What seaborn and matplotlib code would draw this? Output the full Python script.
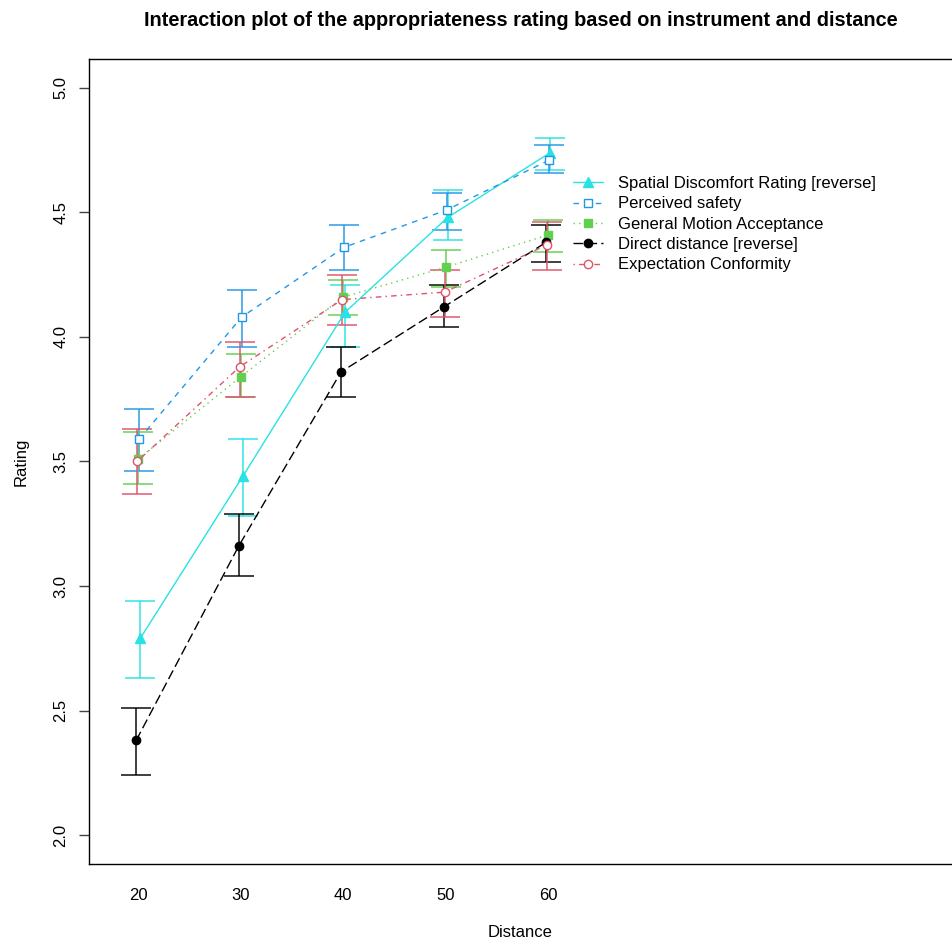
import matplotlib
matplotlib.use("Agg")
import matplotlib.pyplot as plt
import seaborn as sns
import numpy as np
import pandas as pd

# data (means with lower / upper error bounds)
distance = [20, 30, 40, 50, 60]
instruments = ['Spatial Discomfort Rating [reverse]', 'Perceived safety',
               'General Motion Acceptance', 'Direct distance [reverse]',
               'Expectation Conformity']

spatial = [2.79, 3.44, 4.10, 4.48, 4.74]
spatial_lo = [2.63, 3.28, 3.96, 4.39, 4.67]
spatial_hi = [2.94, 3.59, 4.21, 4.59, 4.80]

perceived = [3.59, 4.08, 4.36, 4.51, 4.71]
perceived_lo = [3.46, 3.96, 4.27, 4.43, 4.66]
perceived_hi = [3.71, 4.19, 4.45, 4.58, 4.77]

general = [3.51, 3.84, 4.16, 4.28, 4.41]
general_lo = [3.41, 3.76, 4.09, 4.20, 4.34]
general_hi = [3.62, 3.93, 4.23, 4.35, 4.47]

direct = [2.38, 3.16, 3.86, 4.12, 4.38]
direct_lo = [2.24, 3.04, 3.76, 4.04, 4.30]
direct_hi = [2.51, 3.29, 3.96, 4.21, 4.45]

expect = [3.50, 3.88, 4.15, 4.18, 4.37]
expect_lo = [3.37, 3.76, 4.05, 4.08, 4.27]
expect_hi = [3.63, 3.98, 4.25, 4.27, 4.46]

means = [spatial, perceived, general, direct, expect]
lows = [spatial_lo, perceived_lo, general_lo, direct_lo, expect_lo]
highs = [spatial_hi, perceived_hi, general_hi, direct_hi, expect_hi]

# styling per series (R palette colours)
colors = ['#28E2E5', '#2297E6', '#61D04F', 'black', '#DF536B']
markers = ['^', 's', 's', 'o', 'o']
filled = [True, False, True, True, False]
dashes = [None, (4, 4), (1, 3), (7, 3), (1, 3, 4, 3)]
dodge = [0.2, 0.1, 0.0, -0.2, -0.1]
msizes = [7, 6, 6, 6, 6]

sns.set_theme(style='white')
plt.rcParams['font.family'] = ['Liberation Sans', 'DejaVu Sans']
plt.rcParams['text.color'] = 'black'
plt.rcParams['axes.labelcolor'] = 'black'
plt.rcParams['xtick.color'] = 'black'
plt.rcParams['ytick.color'] = 'black'

fig = plt.figure(figsize=(9.52, 9.42), dpi=100)
ax = fig.add_axes([89 / 952, 1 - 864 / 942, 1 - 89 / 952, (864 - 59) / 942])

for i, name in enumerate(instruments):
    x = np.array(distance) + dodge[i]
    m = np.array(means[i])
    lo = m - np.array(lows[i])
    hi = np.array(highs[i]) - m
    ax.errorbar(x, m, yerr=[lo, hi], fmt='none', ecolor=colors[i], elinewidth=1.4,
                capsize=11, capthick=1.4, alpha=0.75, zorder=2)
    df = pd.DataFrame({'Distance': x, 'Rating': m})
    sns.lineplot(data=df, x='Distance', y='Rating', ax=ax, color=colors[i],
                 marker=markers[i], markersize=msizes[i],
                 markerfacecolor=colors[i] if filled[i] else 'white',
                 markeredgecolor=colors[i], markeredgewidth=1.0,
                 linewidth=1.0, label=name, zorder=3)
    if dashes[i] is not None:
        ax.lines[-1].set_dashes(dashes[i])

ax.set_xlim(15.2, 99.4)
ax.set_ylim(1.884, 5.116)
ax.set_xticks(distance)
ax.set_xticklabels([str(d) for d in distance])
ax.set_yticks([2.0, 2.5, 3.0, 3.5, 4.0, 4.5, 5.0])
ax.set_yticklabels(['2.0', '2.5', '3.0', '3.5', '4.0', '4.5', '5.0'],
                   rotation=90, va='center')
ax.tick_params(axis='x', length=0, pad=17, labelsize=12)
ax.tick_params(axis='y', left=True, length=7, width=1, color='#444444',
               pad=8, labelsize=12, direction='out')

ax.spines['right'].set_visible(False)
for s in ['left', 'bottom', 'top']:
    ax.spines[s].set_color('black')
    ax.spines[s].set_linewidth(1.0)

ax.set_xlabel('Distance', fontsize=12, labelpad=16)
ax.set_ylabel('Rating', fontsize=12, labelpad=18)
ax.set_title('Interaction plot of the appropriateness rating based on instrument and distance',
             fontsize=14.3, fontweight='bold', pad=24)

ax.legend(loc='upper left', bbox_to_anchor=(573 / 952, 1 - 176 / 942),
          bbox_transform=fig.transFigure, frameon=False, fontsize=12,
          handlelength=1.8, handletextpad=0.9, labelspacing=0.32,
          borderaxespad=0, borderpad=0)

fig.savefig('out.png', dpi=100)
